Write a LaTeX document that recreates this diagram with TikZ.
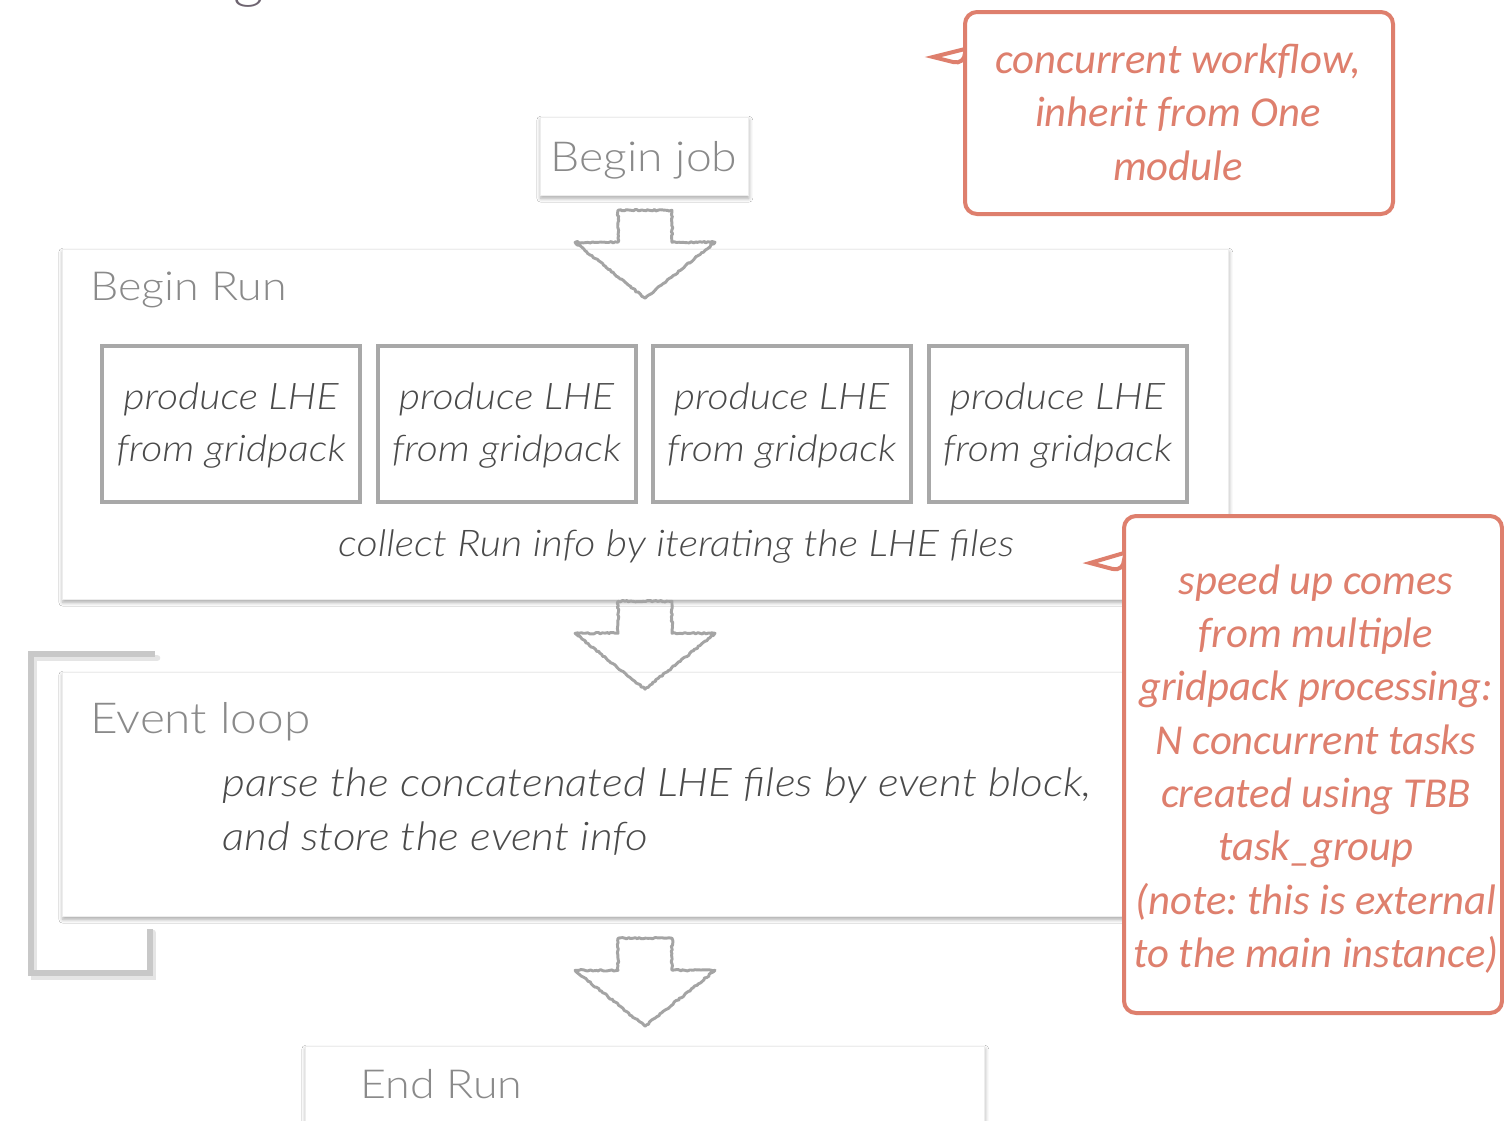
\documentclass[tikz,border=0pt]{standalone}
\usepackage{fontspec}
\newfontfamily\lato{Lato Light}[ItalicFont={Lato Light Italic}, FakeStretch=1.12]
\newfontfamily\calit{Carlito}
\usetikzlibrary{shadows.blur,decorations.pathmorphing,calc}
\definecolor{titlegray}{HTML}{8A8A8A}
\definecolor{bodygray}{HTML}{4A4A4A}
\definecolor{framegray}{HTML}{A8A8A8}
\definecolor{arrowgray}{HTML}{A4A4A4}
\definecolor{loopgray}{HTML}{C8C8C8}
\definecolor{salmon}{HTML}{DE7F6D}
\definecolor{headpurple}{HTML}{6E6470}

\tikzset{
  panel/.style={fill=white, draw=black!7, line width=0.4pt,
    blur shadow={shadow xshift=0.6pt, shadow yshift=-2.4pt, shadow blur radius=3pt, shadow opacity=35}},
  taskbox/.style={draw=framegray, line width=3pt, fill=white,
    minimum width=193.5pt, minimum height=117pt, inner sep=0pt},
  tasktext/.style={font=\lato\itshape\fontsize{27.5}{39}\selectfont, text=bodygray, align=center},
  paneltitle/.style={font=\lato\fontsize{30}{38}\selectfont, text=titlegray, anchor=base west, inner sep=0pt},
  bodytext/.style={font=\lato\itshape\fontsize{27.6}{40}\selectfont, text=bodygray},
  arrowline/.style={draw=arrowgray, line width=2.2pt, line join=round,
    decorate, decoration={random steps, segment length=1.6pt, amplitude=0.6pt}},
  bigarrow/.pic={\draw[arrowline] (-27,0) -- (27,0) -- (27,32) -- (70,32) -- (0,88) -- (-70,32) -- (-27,32) -- cycle;},
  calloutline/.style={draw=salmon, line width=3pt, fill=white},
  callouttext/.style={font=\calit\itshape\fontsize{32}{40}\selectfont, text=salmon, align=center},
  loopline/.style={draw=loopgray, line width=4.5pt},
}

\begin{document}
\frenchspacing
\begin{tikzpicture}[x=0.75pt, y=-0.75pt]
\useasboundingbox[fill=white] (0,0) rectangle (1504,1121);

% fragment of the heading above the chart
\node[font=\lato\fontsize{40}{48}\selectfont, text=headpurple, anchor=base, inner sep=0pt] (heading) at (249,-3) {g};

% Begin job
\node[panel, minimum width=156pt, minimum height=58.5pt, inner sep=0pt] (beginjob) at (644,156) {};
\node[font=\lato\fontsize{31}{38}\selectfont, text=titlegray, anchor=base, inner sep=0pt] (beginjoblabel) at (644,171) {Begin job};

% Begin Run panel with the four gridpack tasks
\node[panel, minimum width=874.5pt, minimum height=262.5pt] (beginrun) at (645,424) {};
\node[paneltitle] (beginruntitle) at (90,300) {Begin Run};
\foreach \cx/\nm in {231/t1, 506.5/t2, 781.5/t3, 1057.5/t4} {
  \node[taskbox] (\nm) at (\cx,424) {};
  \node[tasktext] (\nm text) at (\cx,426) {produce LHE\\from gridpack};
}
\node[bodytext] (collect) at (676,547) {collect Run info by iterating the LHE files};

% Event loop panel and its loop bracket
\draw[line width=5pt, draw=black, opacity=0.10, line cap=round] (157,658) -| (34,977) -| (153,933);
\draw[loopline] (155,654) -| (31,973) -| (150,929);
\node[panel, minimum width=874.5pt, minimum height=183pt] (eventloop) at (645,794) {};
\node[paneltitle, font=\lato\fontsize{32}{38}\selectfont] (eventlooptitle) at (90,733) {Event loop};
\node[bodytext, font=\lato\itshape\fontsize{29.6}{40}\selectfont, align=left, anchor=north west, inner sep=0pt] (parse) at (222,768)
  {parse the concatenated LHE files by event block,\\and store the event info};

% End Run panel
\node[panel, minimum width=509.25pt, minimum height=85.5pt] (endrun) at (644.5,1103) {};
\node[paneltitle] (endruntitle) at (360,1098) {End Run};

% flow arrows between stages
\path (beginjob.south) ++(1,15) pic {bigarrow};
\path (beginrun.south) ++(0,2) pic {bigarrow};
\path (eventloop.south) ++(0,22) pic {bigarrow};

% callouts
\draw[calloutline] (965,65) [sharp corners] -- (933,57) -- (965,49)
  [rounded corners=9pt] -- (965,12) -- (1393,12) -- (1393,214) -- (965,214) -- (965,65) -- cycle;
\node[callouttext] (note1) at (1178,112) {concurrent workflow,\\inherit from One\\module};

\draw[calloutline] (1124,572) [sharp corners] -- (1090,563) -- (1124,553)
  [rounded corners=9pt] -- (1124,516) -- (1502,516) -- (1502,1013) -- (1124,1013) -- (1124,572) -- cycle;
\node[callouttext] (note2) at (1316,769) {speed up comes\\from multiple\\gridpack processing:\\N concurrent tasks\\created using TBB\\task\_group\\(note: this is external\\to the main instance)};
\end{tikzpicture}
\end{document}
